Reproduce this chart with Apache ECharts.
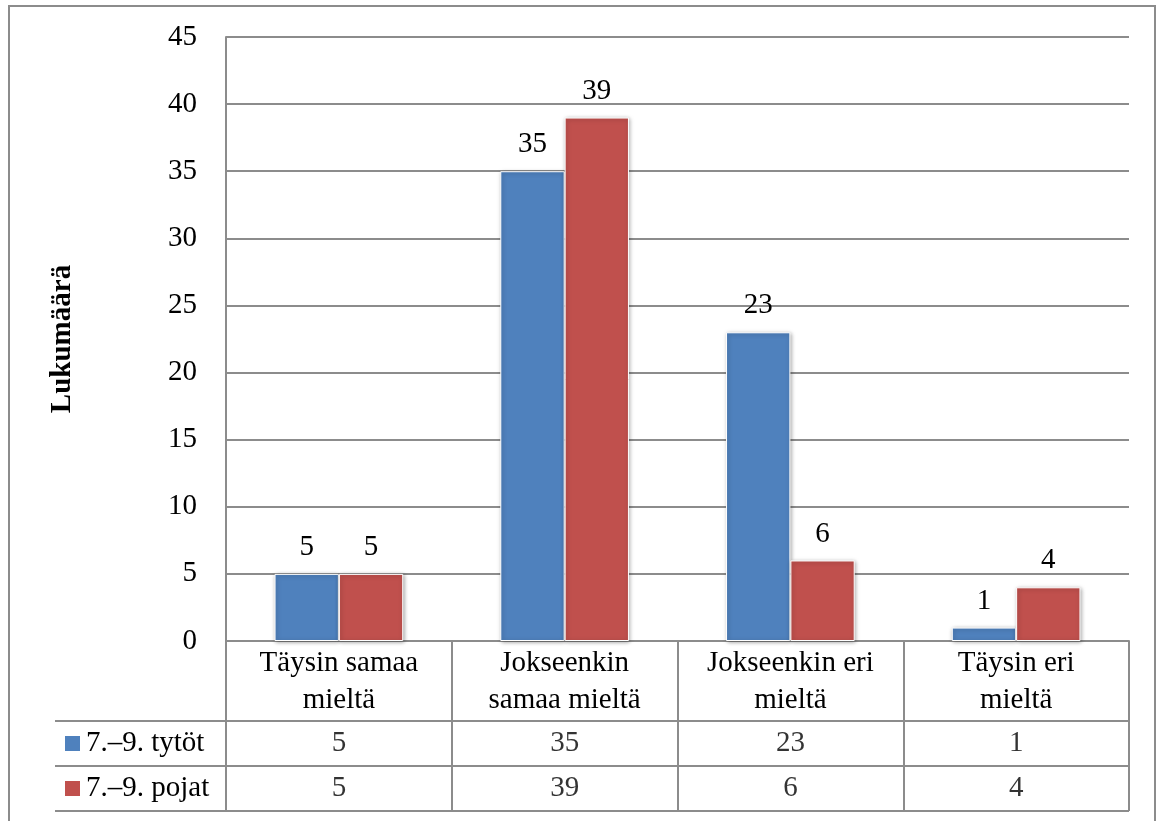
<!DOCTYPE html>
<html>
<head>
<meta charset="utf-8">
<script src="https://cdn.jsdelivr.net/npm/echarts@6/dist/echarts.min.js"></script>
<style>
html,body{margin:0;padding:0;background:#fff;}
#frame{position:absolute;left:8px;top:5px;width:1148px;height:830px;border:2px solid #8c8c8c;box-sizing:border-box;pointer-events:none;}
#c{position:absolute;left:0;top:0;width:1165px;height:821px;}
</style>
</head>
<body>
<div id="frame"></div>
<div id="c"></div>
<script>
const categories = ['Täysin samaa\nmieltä', 'Jokseenkin\nsamaa mieltä', 'Jokseenkin eri\nmieltä', 'Täysin eri\nmieltä'];
const seriesNames = ['7.–9. tytöt', '7.–9. pojat'];
const girls = [5, 35, 23, 1];
const boys = [5, 39, 6, 4];
const yTicks = {min: 0, max: 45, interval: 5};
const colors = ['#4F81BD', '#C0504D'];

const FONT = '"Liberation Serif", "DejaVu Serif", serif';
const GRAY = '#8c8c8c';
const FS = 29;

const tableData = [];
girls.forEach((v, i) => tableData.push([i, 0, v]));
boys.forEach((v, i) => tableData.push([i, 1, v]));

const chart = echarts.init(document.getElementById('c'), null, {renderer: 'canvas'});
const barStyle = (c) => ({
  color: c, borderColor: '#fff', borderWidth: 1,
  shadowBlur: 4, shadowColor: 'rgba(0,0,0,0.35)', shadowOffsetX: 1, shadowOffsetY: 1
});
const labelStyle = {
  show: true, position: 'top', distance: 12,
  fontFamily: FONT, fontSize: FS, color: '#000'
};
chart.setOption({
  animation: false,
  textStyle: {fontFamily: FONT},
  grid: [
    {left: 226, right: 36, top: 37, bottom: 180},
    {left: 226, right: 36, top: 721, bottom: 10}
  ],
  xAxis: [
    {
      gridIndex: 0, type: 'category', data: categories,
      axisLine: {show: true, lineStyle: {color: GRAY, width: 2}},
      axisTick: {show: true, length: 80, lineStyle: {color: GRAY, width: 2}},
      axisLabel: {fontFamily: FONT, fontSize: FS, color: '#000', lineHeight: 37, margin: 4, interval: 0},
      splitLine: {show: false}
    },
    {
      gridIndex: 1, type: 'category', data: categories,
      axisLine: {show: false}, axisTick: {show: false}, axisLabel: {show: false},
      splitLine: {show: true, lineStyle: {color: GRAY, width: 2}}
    }
  ],
  yAxis: [
    {
      gridIndex: 0, type: 'value', min: yTicks.min, max: yTicks.max, interval: yTicks.interval,
      name: 'Lukumäärä', nameLocation: 'middle', nameGap: 149, nameRotate: 90,
      nameTextStyle: {fontFamily: FONT, fontSize: 29, fontWeight: 'bold', color: '#000'},
      axisLine: {show: true, lineStyle: {color: GRAY, width: 2}},
      axisTick: {show: false},
      axisLabel: {fontFamily: FONT, fontSize: FS, color: '#000', margin: 29},
      splitLine: {show: true, lineStyle: {color: GRAY, width: 2}}
    },
    {
      gridIndex: 1, type: 'category', data: seriesNames, inverse: true,
      axisLine: {show: true, lineStyle: {color: GRAY, width: 2}},
      axisTick: {show: true, length: 171, lineStyle: {color: GRAY, width: 2}},
      splitLine: {show: true, lineStyle: {color: GRAY, width: 2}},
      axisLabel: {
        align: 'left', margin: 161,
        formatter: (v, i) => '{' + (i === 0 ? 'a' : 'b') + '|}  {t|' + v + '}',
        rich: {
          a: {width: 15, height: 15, backgroundColor: colors[0]},
          b: {width: 15, height: 15, backgroundColor: colors[1]},
          t: {fontFamily: FONT, fontSize: FS, color: '#000'}
        }
      }
    },
    {
      gridIndex: 1, type: 'category', data: seriesNames, inverse: true, offset: 171,
      axisLine: {show: true, lineStyle: {color: GRAY, width: 2}},
      axisTick: {show: false}, axisLabel: {show: false}, splitLine: {show: false}
    }
  ],
  series: [
    {
      name: seriesNames[0], type: 'bar', xAxisIndex: 0, yAxisIndex: 0, data: girls,
      barGap: '0%', barCategoryGap: '43%', itemStyle: barStyle(colors[0]), label: labelStyle
    },
    {
      name: seriesNames[1], type: 'bar', xAxisIndex: 0, yAxisIndex: 0, data: boys,
      barGap: '0%', barCategoryGap: '43%', itemStyle: barStyle(colors[1]), label: labelStyle
    },
    {
      type: 'scatter', xAxisIndex: 1, yAxisIndex: 1, data: tableData, symbolSize: 0, silent: true,
      label: {show: true, position: 'inside', formatter: p => String(p.value[2]),
        fontFamily: FONT, fontSize: FS, color: '#000'}
    }
  ]
});
</script>
</body>
</html>
